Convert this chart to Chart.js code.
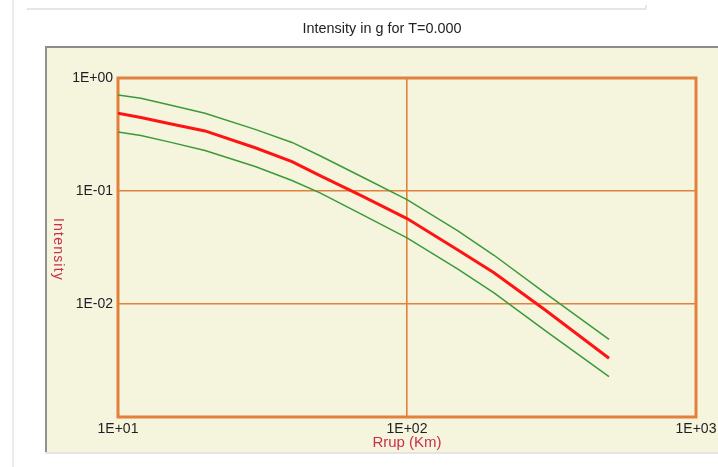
<!DOCTYPE html>
<html>
<head>
<meta charset="utf-8">
<script src="https://cdn.jsdelivr.net/npm/chart.js@4/dist/chart.umd.min.js"></script>
<style>
  html, body { margin: 0; padding: 0; background: #ffffff; overflow: hidden; }
  canvas { display: block; }
</style>
</head>
<body>
<canvas id="c" width="718" height="467"></canvas>
<script>
// Rupture distance (km) and spectral intensity (g): median and +/- one sigma
const distances = [10, 12, 15, 20, 30, 40, 50, 70, 100, 150, 200, 300, 500];
const median = [0.488, 0.447, 0.396, 0.340, 0.240, 0.182, 0.137, 0.090, 0.057, 0.0301, 0.0189, 0.00889, 0.00331];
const upper  = [0.708, 0.662, 0.581, 0.488, 0.349, 0.269, 0.205, 0.133, 0.0838, 0.0444, 0.0270, 0.01256, 0.00487];
const lower  = [0.332, 0.310, 0.272, 0.228, 0.164, 0.124, 0.0962, 0.0618, 0.0385, 0.0204, 0.01256, 0.00585, 0.00228];

const xTickValues = [10, 100, 1000];
const xTickLabels = ['1E+01', '1E+02', '1E+03'];
const yTickValues = [0.01, 0.1, 1];
const yTickLabels = ['1E-02', '1E-01', '1E+00'];

const chartTitle = 'Intensity in g for T=0.000';
const xTitle = 'Rrup (Km)';
const yTitle = 'Intensity';

const ORANGE = '#E2803C';
const PANEL = '#F5F4DC';
const FONT = '"Liberation Sans", Arial, sans-serif';

const frame = {
  id: 'frame',
  beforeDraw(chart) {
    const ctx = chart.ctx;
    ctx.save();
    ctx.fillStyle = '#ffffff';
    ctx.fillRect(0, 0, 718, 467);
    // outer window lines
    ctx.fillStyle = '#e6e6e6';
    ctx.fillRect(27, 8, 619, 2);
    ctx.fillRect(645, 5, 2, 4);
    ctx.fillStyle = '#ebebeb';
    ctx.fillRect(12, 0, 2, 467);
    // beige panel
    ctx.fillStyle = PANEL;
    ctx.fillRect(45, 46, 673, 407);
    ctx.fillStyle = '#8c8c8c';
    ctx.fillRect(45, 46, 673, 2);
    ctx.fillStyle = '#909090';
    ctx.fillRect(45, 46, 2, 407);
    ctx.fillStyle = '#e4e4e4';
    ctx.fillRect(45, 452, 673, 2);
    // chart title
    ctx.fillStyle = '#222222';
    ctx.font = '14.4px ' + FONT;
    ctx.textAlign = 'center';
    ctx.textBaseline = 'middle';
    ctx.fillText(chartTitle, 382, 29);
    ctx.restore();
  },
  beforeDatasetsDraw(chart) {
    const a = chart.chartArea;
    const ctx = chart.ctx;
    ctx.save();
    ctx.strokeStyle = ORANGE;
    ctx.lineWidth = 3;
    ctx.strokeRect(a.left, a.top, a.right - a.left, a.bottom - a.top);
    ctx.restore();
  },
  afterDraw(chart) {
    const a = chart.chartArea;
    const ctx = chart.ctx;
    ctx.save();
    ctx.fillStyle = '#C8304E';
    ctx.textAlign = 'center';
    ctx.textBaseline = 'middle';
    ctx.font = '15px ' + FONT;
    ctx.fillText(xTitle, (a.left + a.right) / 2, 443);
    ctx.translate(58, (a.top + a.bottom) / 2 + 2);
    ctx.rotate(Math.PI / 2);
    ctx.font = '14px ' + FONT;
    ctx.letterSpacing = '1.2px';
    ctx.fillText(yTitle, 0, 0);
    ctx.restore();
  }
};

const tickFont = { family: FONT, size: 14 };

// keep the plot rectangle fixed: no extra padding for overhanging labels
function noLabelPadding(s) {
  s.paddingLeft = 0; s.paddingRight = 0; s.paddingTop = 0; s.paddingBottom = 0;
}

new Chart(document.getElementById('c'), {
  type: 'line',
  data: {
    labels: distances,
    datasets: [
      { label: 'Upper', data: distances.map((d, i) => ({ x: d, y: upper[i] })), borderColor: '#3A9A3A', borderWidth: 1.5, pointRadius: 0, tension: 0 },
      { label: 'Lower', data: distances.map((d, i) => ({ x: d, y: lower[i] })), borderColor: '#3A9A3A', borderWidth: 1.5, pointRadius: 0, tension: 0 },
      { label: 'Median', data: distances.map((d, i) => ({ x: d, y: median[i] })), borderColor: '#FF1414', borderWidth: 3, pointRadius: 0, tension: 0 }
    ]
  },
  options: {
    responsive: false,
    animation: false,
    events: [],
    layout: { padding: { left: 0, top: 78, right: 22, bottom: 0 } },
    plugins: { legend: { display: false }, tooltip: { enabled: false }, title: { display: false } },
    scales: {
      x: {
        type: 'logarithmic', min: 10, max: 1000,
        afterBuildTicks: s => { s.ticks = xTickValues.map(v => ({ value: v, major: true })); },
        afterFit: s => { s.height = 50; noLabelPadding(s); },
        grid: { color: ORANGE, lineWidth: 1.6, drawTicks: false },
        border: { display: false },
        ticks: {
          padding: 4, color: '#1e1e24', font: tickFont, maxRotation: 0, autoSkip: false,
          callback: v => xTickLabels[xTickValues.indexOf(v)]
        }
      },
      y: {
        type: 'logarithmic', min: 0.001, max: 1,
        afterBuildTicks: s => { s.ticks = yTickValues.map(v => ({ value: v, major: true })); },
        afterFit: s => { s.width = 118; noLabelPadding(s); },
        grid: { color: ORANGE, lineWidth: 1.6, drawTicks: false },
        border: { display: false },
        ticks: {
          padding: 5, color: '#1e1e24', font: tickFont, autoSkip: false,
          callback: v => yTickLabels[yTickValues.indexOf(v)]
        }
      }
    }
  },
  plugins: [frame]
});
</script>
</body>
</html>
